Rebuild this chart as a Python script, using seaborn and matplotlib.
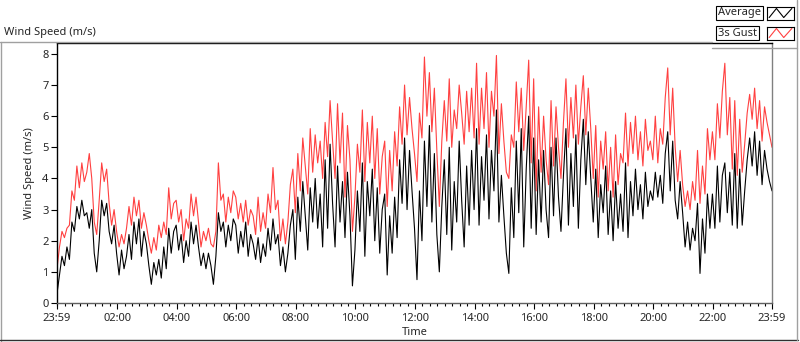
import numpy as np
import pandas as pd
import matplotlib
matplotlib.use("Agg")
import matplotlib.pyplot as plt
import matplotlib.dates as mdates
from matplotlib.lines import Line2D
import seaborn as sns

# 5-minute samples from 23:59 to 23:59 the next day, one row per hour
average = [
    0.3, 0.9, 1.5, 1.2, 1.8, 1.4, 2.6, 2.3, 3.1, 2.7, 3.3, 2.8,
    2.9, 2.4, 3.0, 1.6, 1.0, 2.0, 3.3, 2.8, 3.2, 2.3, 1.9, 2.5,
    1.6, 0.9, 1.7, 1.1, 1.5, 2.2, 1.4, 2.6, 1.9, 2.7, 1.5, 2.3,
    1.9, 1.2, 0.6, 1.3, 0.9, 1.4, 0.8, 1.8, 1.1, 2.4, 1.6, 2.3,
    2.5, 1.7, 2.2, 1.3, 2.0, 1.5, 2.6, 1.9, 2.5, 1.8, 1.2, 1.6,
    1.1, 1.6, 1.2, 0.6, 1.5, 2.9, 2.3, 2.6, 1.8, 2.5, 2.0, 2.7,
    2.5, 1.6, 2.3, 1.8, 2.6, 1.5, 2.2, 1.9, 1.4, 2.1, 1.3, 1.9,
    1.5, 2.4, 1.7, 2.7, 1.9, 2.2, 1.2, 1.8, 1.0, 1.6, 2.5, 3.0,
    1.4, 3.4, 2.3, 3.9, 2.8, 1.7, 3.7, 2.6, 4.0, 2.4, 3.5, 1.8,
    4.6, 2.4, 5.1, 3.2, 1.8, 4.4, 2.6, 3.9, 2.1, 4.2, 2.8, 0.55,
    1.7, 3.6, 2.3, 4.5, 1.5, 3.9, 2.8, 4.3, 2.0, 3.7, 1.6, 3.0,
    3.5, 0.9, 2.8, 1.6, 3.4, 2.1, 4.6, 3.2, 5.3, 3.0, 4.9, 3.6,
    2.4, 0.75, 3.6, 2.0, 5.2, 3.1, 5.7, 2.6, 4.8, 2.2, 1.0, 3.1,
    4.6, 2.2, 5.0, 1.7, 3.9, 2.6, 5.2, 3.3, 1.8, 4.4, 2.5, 4.9,
    3.0, 5.6, 2.5, 4.7, 3.3, 5.4, 2.7, 4.9, 3.6, 6.2, 2.6, 4.1,
    2.8, 1.6, 0.95, 3.7, 2.1, 5.2, 2.9, 5.6, 1.8, 4.3, 6.0, 2.4,
    5.3, 2.2, 4.6, 2.6, 4.9, 3.0, 2.1, 5.0, 2.8, 5.3, 3.4, 2.3,
    4.1, 5.6, 2.5, 4.8, 3.1, 5.4, 2.4, 4.6, 5.9, 3.8, 5.5, 4.0,
    2.6, 4.3, 2.1, 3.8, 2.9, 4.4, 2.2, 3.6, 2.0, 3.9, 2.4, 3.5,
    2.3, 4.5, 2.1, 3.9, 2.8, 4.3, 3.0, 3.8, 2.7, 4.2, 3.1, 3.6,
    3.3, 4.2, 3.4, 4.1, 3.2, 4.8, 5.5, 3.6, 5.2, 3.3, 2.7, 3.9,
    2.9, 1.8, 2.6, 1.7, 2.4, 2.0, 3.2, 0.95, 2.7, 1.6, 3.5, 2.4,
    3.5, 2.4, 4.4, 2.6, 4.1, 4.5, 2.9, 4.2, 2.5, 4.8, 2.4, 4.3,
    2.5, 3.6, 4.6, 5.3, 4.4, 5.5, 4.1, 5.2, 3.8, 4.9, 4.3, 3.9,
    3.6,
]
gust = [
    1.1, 1.8, 2.3, 2.1, 2.4, 2.5, 3.6, 3.3, 4.4, 3.7, 4.5, 3.9,
    4.2, 4.8, 4.0, 2.6, 2.2, 3.3, 4.5, 3.9, 4.3, 3.2, 2.5, 3.0,
    2.3, 1.8, 2.2, 1.9, 2.4, 3.1, 2.5, 3.4, 2.8, 3.3, 2.4, 2.9,
    2.5, 2.0, 1.6, 2.1, 1.7, 2.5, 2.1, 2.6, 2.2, 3.7, 2.7, 3.2,
    3.3, 2.6, 3.0, 2.0, 2.7, 2.4, 3.5, 2.8, 3.4, 2.6, 1.8, 2.3,
    2.0, 2.4, 1.9, 1.8, 2.3, 4.5, 3.3, 3.5, 2.6, 3.4, 2.9, 3.6,
    3.4, 2.7, 3.2, 2.6, 3.3, 2.5, 3.0, 2.8, 2.2, 3.4, 2.3, 2.9,
    2.4, 3.5, 2.9, 4.35, 3.0, 3.3, 2.0, 2.7, 1.9, 2.6, 3.8, 4.3,
    2.9, 4.8, 3.6, 5.3, 4.4, 3.5, 5.6, 4.2, 5.4, 4.5, 5.2, 4.0,
    5.8, 4.7, 6.5, 5.2, 4.0, 6.4, 4.5, 6.1, 3.4, 5.7, 4.6, 2.3,
    3.4, 5.1, 4.2, 6.2, 3.9, 5.8, 4.5, 6.0, 4.0, 5.6, 3.5, 4.7,
    5.2, 3.1, 4.9, 3.6, 5.5, 4.4, 6.3, 5.1, 7.0, 5.4, 6.6, 5.6,
    4.8, 3.9, 6.1, 5.3, 7.9, 6.0, 7.4, 5.5, 6.9, 4.9, 3.1, 5.2,
    6.5, 5.2, 7.2, 5.0, 6.2, 5.6, 7.0, 6.1, 5.1, 6.8, 5.5, 6.9,
    5.3, 7.7, 5.1, 6.9, 5.6, 7.4, 5.0, 6.8, 6.0, 7.95, 4.8, 6.4,
    5.2, 4.2, 4.0, 5.4, 5.0, 7.1, 5.5, 6.9, 4.9, 6.3, 7.8, 4.5,
    7.2, 3.6, 6.3, 4.2, 6.0, 4.6, 3.8, 6.5, 4.4, 6.3, 5.0, 4.0,
    5.8, 7.2, 5.0, 6.6, 5.3, 7.0, 5.1, 6.3, 7.3, 5.4, 6.9, 5.6,
    4.0, 5.7, 3.4, 5.2, 4.3, 5.5, 3.6, 5.0, 3.4, 5.4, 3.8, 4.8,
    4.5, 6.1, 4.4, 5.8, 4.8, 6.0, 4.6, 5.5, 4.4, 5.9, 4.9, 5.2,
    4.6, 6.0, 4.5, 5.6, 5.1, 6.6, 7.55, 5.4, 6.9, 5.0, 3.9, 4.9,
    3.8, 3.1, 3.6, 3.0, 3.9, 3.3, 4.9, 3.2, 4.4, 3.5, 5.6, 4.6,
    5.5, 4.6, 6.4, 5.3, 6.8, 7.7, 5.4, 6.6, 4.3, 6.5, 4.1, 5.9,
    4.2, 5.1, 6.1, 6.7, 5.9, 6.9, 5.6, 6.5, 5.2, 6.3, 5.8, 5.4,
    5.0,
]
series_names = ["Average", "3s Gust"]
series_colors = ["#000000", "#ff4040"]

start = pd.Timestamp("2024-01-01 23:59")
times = pd.date_range(start, periods=len(average), freq="5min")
end = times[-1]
df = pd.DataFrame({"time": times, "Average": average, "3s Gust": gust})

sns.set_style("white")
plt.rcParams["font.family"] = ["Noto Sans", "DejaVu Sans"]
plt.rcParams["font.size"] = 8

W, H = 800, 342
fig = plt.figure(figsize=(W / 100, H / 100), dpi=100)
fig.patch.set_facecolor("white")

def fx(px):
    return px / W

def fy(py):
    return 1 - py / H

ax = fig.add_axes([fx(57), fy(303), fx(772 - 57), (303 - 43) / H])

# gust behind, average on top
sns.lineplot(data=df, x="time", y="3s Gust", color=series_colors[1],
             lw=0.8, estimator=None, ax=ax)
sns.lineplot(data=df, x="time", y="Average", color=series_colors[0],
             lw=0.8, estimator=None, ax=ax)

ax.set_xlim(start, end)
ax.set_ylim(0, 8.35)
ax.set_yticks(range(0, 9))

major = [start] + [pd.Timestamp("2024-01-02") + pd.Timedelta(hours=h)
                   for h in range(2, 23, 2)] + [end]
ax.set_xticks(major)
ax.set_xticklabels([t.strftime("%H:%M") for t in major])
ax.xaxis.set_minor_locator(mdates.MinuteLocator(byminute=[0, 15, 30, 45]))

ax.tick_params(axis="both", which="major", direction="out", length=4,
               width=0.8, color="black", labelsize=8, pad=2,
               bottom=True, left=True)
ax.tick_params(axis="x", which="major", pad=3)
ax.tick_params(axis="x", which="minor", direction="out", length=2,
               width=0.8, color="black", bottom=True)

ax.set_xlabel("Time", fontsize=8, labelpad=2.5)
ax.set_ylabel("Wind Speed (m/s)", fontsize=8, labelpad=5)

for side in ["left", "top"]:
    ax.spines[side].set_color("black")
    ax.spines[side].set_linewidth(1.0)
ax.spines["right"].set_color("#808080")
ax.spines["bottom"].set_color("#606060")
ax.spines["right"].set_linewidth(1.0)
ax.spines["bottom"].set_linewidth(1.0)

# chart title and outer frame
fig.text(fx(4), fy(32), "Wind Speed (m/s)", fontsize=8, va="center",
         ha="left")
fig.add_artist(Line2D([fx(0), fx(712)], [fy(42), fy(42)], color="#a0a0a0",
                      lw=1))
fig.add_artist(Line2D([fx(1), fx(1)], [fy(42), fy(341)], color="#a0a0a0",
                      lw=1))
fig.add_artist(Line2D([fx(0), fx(798)], [fy(340), fy(340)], color="#303030",
                      lw=1))
fig.add_artist(Line2D([fx(797), fx(797)], [fy(0), fy(340)], color="#a0a0a0",
                      lw=1))
fig.add_artist(Line2D([fx(712), fx(797)], [fy(48), fy(48)], color="#a0a0a0",
                      lw=1))

# legend: name boxes plus line-sample boxes
rows_y = [13, 33]
for name, color, ry in zip(series_names, series_colors, rows_y):
    fig.text(fx(718), fy(ry), name, fontsize=8, va="center", ha="left",
             bbox=dict(boxstyle="square,pad=0.15", fc="white", ec="black",
                       lw=0.8))
    icon = fig.add_axes([fx(767), fy(ry + 6.5), fx(27), 13 / H])
    icon.plot([0.08, 0.35, 0.62, 0.92], [0.15, 0.85, 0.15, 0.85],
              color=color, lw=0.8)
    icon.set_xlim(0, 1)
    icon.set_ylim(0, 1)
    icon.set_xticks([])
    icon.set_yticks([])
    for s in icon.spines.values():
        s.set_color("black")
        s.set_linewidth(0.8)

fig.savefig("out.png", dpi=100)
